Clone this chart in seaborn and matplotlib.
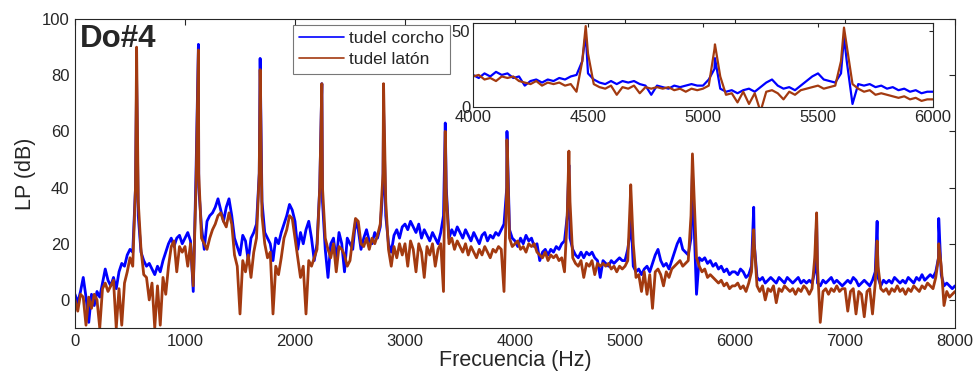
import numpy as np
import pandas as pd
import matplotlib.pyplot as plt
import seaborn as sns

corcho_db = (
    [2, -1, 3, 8, 1, -8, 2, -2, 3, 1, 6, 11, 7, 5, 8, 4, 10, 13, 12, 16]
    + [18, 17, 40, 30, 17, 14, 12, 13, 11, 9, 12, 10, 14, 17, 20, 22, 19, 22, 23, 20]
    + [22, 24, 21, 3, 45, 40, 26, 18, 28, 30, 31, 33, 36, 32, 28, 33, 36, 30, 22, 19]
    + [16, 23, 21, 14, 22, 24, 27, 45, 35, 24, 22, 20, 14, 22, 20, 24, 27, 30, 34, 32]
    + [28, 18, 24, 20, 25, 28, 22, 14, 20, 40, 35, 18, 8, 20, 22, 14, 24, 20, 10, 22]
    + [20, 18, 28, 25, 18, 22, 25, 21, 20, 24, 22, 26, 40, 30, 20, 17, 23, 25, 22, 26]
    + [27, 25, 28, 26, 24, 27, 22, 25, 23, 21, 24, 22, 20, 24, 30, 40, 22, 25, 23, 26]
    + [24, 22, 25, 23, 21, 24, 22, 20, 23, 24, 21, 23, 22, 24, 23, 25, 27, 40, 25, 22]
    + [21, 19, 22, 20, 23, 21, 22, 19, 20, 14, 17, 18, 16, 18, 17, 19, 18, 20, 21, 30]
    + [22, 18, 16, 15, 17, 15, 17, 16, 17, 15, 14, 8, 14, 13, 12, 14, 13, 14, 15, 14]
    + [14, 18, 25, 12, 10, 11, 9, 11, 12, 10, 13, 16, 18, 14, 12, 13, 11, 14, 17, 20]
    + [22, 18, 17, 16, 22, 30, 2, 15, 14, 15, 13, 14, 12, 13, 11, 12, 10, 11, 9, 10]
    + [10, 9, 11, 10, 8, 9, 12, 20, 8, 7, 8, 6, 7, 8, 7, 6, 8, 7, 6, 8]
    + [7, 6, 7, 8, 6, 7, 6, 7, 6, 10, 6, 5, 7, 6, 7, 8, 6, 7, 6, 5]
    + [6, 7, 6, 8, 7, 5, 6, 7, 6, 5, 7, 10, 8, 5, 7, 6, 7, 6, 8, 7]
    + [6, 7, 6, 8, 7, 6, 8, 7, 9, 7, 8, 9, 8, 10, 15, 9, 5, 6, 5, 4]
    + [5]
)
laton_db = (
    [0, -4, 2, 1, -9, 1, -3, 2, 0, -10, 4, 6, 3, 5, 7, -10, 4, -9, 6, 10]
    + [15, 12, 40, 35, 18, 9, 8, 0, 6, -10, 5, -9, 8, 2, 12, 19, 21, 10, 19, 17]
    + [19, 12, 20, 5, 40, 45, 22, 20, 18, 22, 25, 27, 30, 31, 28, 26, 31, 27, 16, 12]
    + [-5, 14, 10, 16, 8, 17, 22, 45, 30, 20, 15, 17, -5, 12, 9, 15, 22, 25, 30, 29]
    + [22, 15, 8, 12, -5, 14, 12, 15, 18, 40, 40, 22, 18, 15, 20, 10, 19, 18, 16, 12]
    + [14, 22, 29, 28, 20, 19, 22, 18, 22, 20, 23, 27, 45, 35, 18, 12, 19, 15, 20, 16]
    + [20, 12, 21, 18, 10, 20, 17, 8, 19, 16, 20, 12, 18, 20, 3, 38, 20, 22, 18, 21]
    + [19, 17, 20, 16, 19, 17, 15, 18, 16, 19, 17, 15, 18, 17, 19, 18, 3, 40, 22, 19]
    + [20, 21, 18, 19, 17, 20, 19, 20, 17, 16, 15, 17, 14, 16, 15, 16, 14, 15, 10, 30]
    + [35, 15, 13, 12, 14, 8, 13, 12, 14, 9, 13, 12, 13, 12, 13, 11, 12, 10, 12, 11]
    + [12, 14, 38, 20, 8, 9, 3, 10, 2, 9, -3, 10, 11, 9, 5, 10, 8, 11, 12, 13]
    + [14, 12, 13, 14, 30, 40, 15, 12, 10, 11, 8, 9, 8, 7, 6, 7, 5, 6, 4, 5]
    + [5, 6, 4, 5, 3, 6, 10, 20, 5, 3, 5, 0, 4, 3, 5, -1, 4, 3, 5, 4]
    + [3, 4, 2, 4, 3, 5, 4, 2, 4, 15, 12, -8, 3, 4, 2, 4, 3, 5, 3, 4]
    + [4, -4, 3, 4, -5, 3, 2, -6, 3, 4, -5, 6, 12, 4, 3, 4, 2, 4, 3, 5]
    + [3, 4, 2, 4, 3, 5, 4, 3, 5, 4, 6, 5, 4, 8, 15, 12, -2, 3, 1, 2]
    + [3]
)
frec_grid = list(range(0, 8001, 25))

# armonicos
pico_frec = [560, 1122, 1683, 2244, 2805, 3366, 3927, 4490, 5052, 5613, 6170, 6742, 7292, 7852]
pico_corcho = [79, 91, 86, 77, 68, 63, 60, 48, 32, 46, 33, 28, 28, 29]
pico_laton = [90, 89, 82, 77, 77, 60, 57, 53, 41, 52, 25, 31, 21, 20]

series = ['tudel corcho', 'tudel latón']
colores = {'tudel corcho': '#0000FF', 'tudel latón': '#A33A10'}

df = pd.concat([
    pd.DataFrame({'frec': frec_grid + pico_frec, 'LP': corcho_db + pico_corcho, 'serie': series[0]}),
    pd.DataFrame({'frec': frec_grid + pico_frec, 'LP': laton_db + pico_laton, 'serie': series[1]}),
])
df = df.sort_values(['serie', 'frec'])

sns.set_style('white')
plt.rcParams['font.family'] = ['Liberation Sans', 'DejaVu Sans']
plt.rcParams.update({
    'axes.edgecolor': '#262626',
    'axes.linewidth': 0.8,
    'xtick.direction': 'in',
    'ytick.direction': 'in',
    'xtick.major.size': 4,
    'ytick.major.size': 4,
    'xtick.color': '#262626',
    'ytick.color': '#262626',
})

fig = plt.figure(figsize=(9.74, 3.74), dpi=100)
ax = fig.add_axes([0.077, 0.123, 0.9035, 0.826])

sns.lineplot(data=df, x='frec', y='LP', hue='serie', hue_order=series,
             palette=colores, estimator=None, sort=False, linewidth=2.0, ax=ax)
ax.set_xlim(0, 8000)
ax.set_ylim(-10, 100)
ax.set_xticks(range(0, 8001, 1000))
ax.set_yticks(range(0, 101, 20))
ax.tick_params(labelsize=12, top=True, right=True, pad=4)
ax.set_xlabel('Frecuencia (Hz)', fontsize=15.5, labelpad=1)
ax.set_ylabel('LP (dB)', fontsize=15.5, labelpad=4)
ax.text(0.005, 0.985, 'Do#4', transform=ax.transAxes, fontsize=22.5,
        fontweight='bold', va='top', ha='left')

leg = ax.legend(loc='upper left', bbox_to_anchor=(293 / 974, 1 - 25 / 374),
                bbox_transform=fig.transFigure, borderaxespad=0, fontsize=12.5,
                frameon=True, fancybox=False, edgecolor='#555555',
                handlelength=2.6, handletextpad=0.25, borderpad=0.35,
                labelspacing=0.35)
leg.get_frame().set_linewidth(0.8)
for h in leg.get_lines():
    h.set_linewidth(1.2)

# inset 4000-6000 Hz
axin = fig.add_axes([473 / 974, 1 - 107 / 374, 460 / 974, 84 / 374])
axin.set_facecolor('white')
sns.lineplot(data=df[(df['frec'] >= 3900) & (df['frec'] <= 6100)], x='frec', y='LP',
             hue='serie', hue_order=series, palette=colores, estimator=None,
             sort=False, linewidth=1.6, legend=False, ax=axin)
axin.set_xlim(4000, 6000)
axin.set_ylim(0, 55)
axin.set_xticks(range(4000, 6001, 500))
axin.set_yticks([0, 50])
axin.tick_params(labelsize=12, top=True, right=True, pad=2, length=3)
axin.set_xlabel('')
axin.set_ylabel('')

fig.savefig('out.png', dpi=100)
